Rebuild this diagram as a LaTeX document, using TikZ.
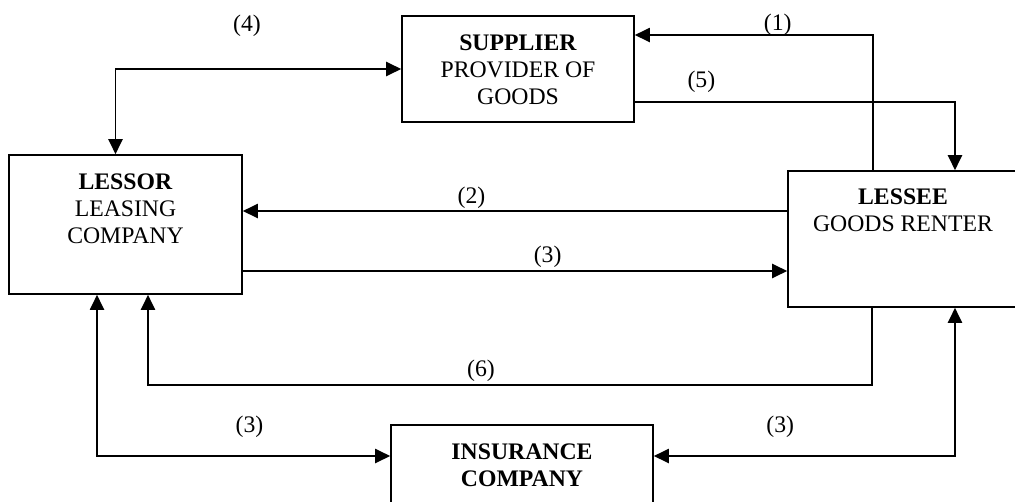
\documentclass[tikz,border=0pt]{standalone}
\usepackage{fontspec}
\setmainfont{Liberation Serif}
\usetikzlibrary{arrows.meta,positioning}
\begin{document}
\begin{tikzpicture}[x=.02cm,y=-.02cm,font=\fontsize{13.5}{15.3}\selectfont,
 box/.style={draw,line width=.9pt,inner sep=0pt},
 txt/.style={align=center,inner sep=0pt},
 tip/.style={-{Triangle[length=.3cm,width=.28cm]}},
 arr/.style={line width=1.1pt,tip},
 dbl/.style={line width=1.1pt,{Triangle[length=.3cm,width=.28cm]}-{Triangle[length=.3cm,width=.28cm]}}]
\useasboundingbox (0,0) rectangle (1015,501);
\node[box,minimum width=4.64cm,minimum height=2.12cm] (supplier) at (518,69) {};
\node[box,minimum width=4.66cm,minimum height=2.78cm] (lessor) at (125.5,224.5) {};
\node[box,minimum width=4.6cm,minimum height=2.72cm] (lessee) at (903,239) {};
\node[box,minimum width=5.24cm,minimum height=1.9cm] (insurance) at (522,472.5) {};
\node[txt,below=.38cm of supplier.north] (suppliertxt) {\textbf{SUPPLIER}\\PROVIDER OF\\GOODS};
\node[txt,below=.38cm of lessor.north] (lessortxt) {\textbf{LESSOR}\\LEASING\\COMPANY};
\node[txt,below=.36cm of lessee.north] (lesseetxt) {\textbf{LESSEE}\\GOODS RENTER};
\node[txt,below=.38cm of insurance.north] (insurancetxt) {\textbf{INSURANCE}\\\textbf{COMPANY}};
\coordinate (a2) at ([yshift=.56cm]lessee.west);
\coordinate (a3) at ([yshift=-.93cm]lessor.east);
\coordinate (c6) at ([xshift=.45cm]lessor.south);
\draw[dbl] (supplier.west) -| ([xshift=-.2cm]lessor.north) node[pos=.27,yshift=.86cm]{(4)};
\draw[arr] ([xshift=-.6cm]lessee.north) |- ([yshift=.68cm]supplier.east) node[pos=.7,yshift=.2cm]{(1)};
\draw[arr] ([yshift=-.66cm]supplier.east) -| ([xshift=1.04cm]lessee.north) node[pos=.104,yshift=.4cm]{(5)};
\draw[arr] (a2) -- (a2 -| lessor.east) node[pos=.58,yshift=.26cm]{(2)};
\draw[arr] (a3) -- (a3 -| lessee.west) node[pos=.56,yshift=.28cm]{(3)};
\draw[arr] ([xshift=-.62cm]lessee.south) -- ++(0,77) -| (c6) node[pos=.27,yshift=.28cm]{(6)};
\draw[dbl] ([xshift=-.57cm]lessor.south) |- ([yshift=.33cm]insurance.west) node[pos=.76,yshift=.58cm]{(3)};
\draw[dbl] ([xshift=1.04cm]lessee.south) |- ([yshift=.33cm]insurance.east) node[pos=.79,yshift=.58cm]{(3)};
\end{tikzpicture}
\end{document}
